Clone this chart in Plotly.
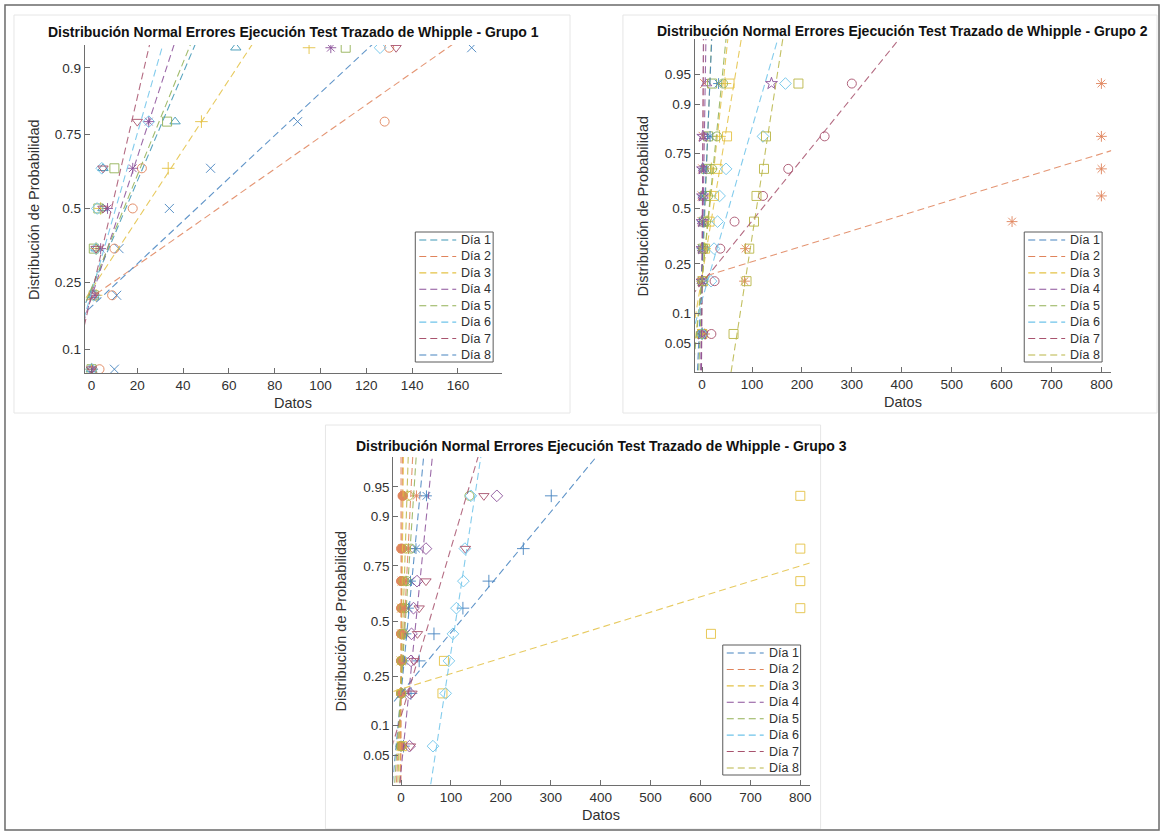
import math
import plotly.graph_objects as go
from statistics import NormalDist

ND = NormalDist()
FIG_W, FIG_H = 1166, 834

# ---------------- text ----------------
DAY_LABELS = ["Día 1", "Día 2", "Día 3", "Día 4", "Día 5", "Día 6", "Día 7", "Día 8"]
TITLE_BASE = "Distribución Normal Errores Ejecución Test Trazado de Whipple - Grupo "
X_LABEL = "Datos"
Y_LABEL = "Distribución de Probabilidad"

# ---------------- ticks ----------------
G1_XTICKS = [0, 20, 40, 60, 80, 100, 120, 140, 160, 180]
G23_XTICKS = [0, 100, 200, 300, 400, 500, 600, 700, 800]
G1_PTICKS = [0.1, 0.25, 0.5, 0.75, 0.9]
G23_PTICKS = [0.05, 0.1, 0.25, 0.5, 0.75, 0.9, 0.95]

# ---------------- data: Grupo 1 (7 observations per day) ----------------
g1_dia1 = [0, 1, 2, 5, 5, 36.5, 63]
g1_dia2 = [3.5, 9, 10, 18, 22, 128, 130]
g1_dia3 = [0, 2, 2, 4, 33.5, 48, 95]
g1_dia4 = [0.5, 1.5, 4, 7, 18, 25, 104.5]
g1_dia5 = [0, 1, 1, 3, 10, 33, 111]
g1_dia6 = [0, 1, 2, 2.5, 4.5, 25, 126]
g1_dia7 = [0, 1, 2, 5, 5, 20, 133]
g1_dia8 = [10, 11, 12, 34, 52, 90, 166]

# ---------------- data: Grupo 2 (8 observations per column) ----------------
g2_dia1 = [0, 0, 0, 1, 2, 3, 16, 33]
g2_dia2 = [5, 85, 87, 621, 800, 800, 800, 800]
g2_dia3 = [0, 1, 5, 10, 16, 18.6, 35, 46]
g2_dia4 = [0, 0, 0, 0, 1, 1, 1.5, 139]
g2_dia5 = [0, 2, 4, 8, 12, 20, 30, 42]
g2_dia6 = [0, 18, 24, 31, 35, 48, 122, 167]
g2_dia7 = [18.6, 25, 36.5, 65, 122, 172.6, 245.5, 300]
g2_dia8 = [63, 89, 94.5, 104, 109, 124, 128, 193]
g2_col9 = [0, 0, 0, 0, 0, 1, 2, 5]
g2_col10 = [0, 2, 6, 15, 24, 31, 50, 55]
g2_col11 = [0, 0, 1, 1, 2, 3, 5, 9]
g2_col12 = [0, 1, 2, 4, 6, 8, 12, 20]

# ---------------- data: Grupo 3 (8 observations per column) ----------------
g3_dia1 = [5, 20, 36.4, 66, 124, 176, 245, 301]
g3_dia2 = [0, 0, 0, 0, 0, 0, 0, 3]
g3_dia3 = [2, 83, 86, 621, 800, 800, 800, 800]
g3_dia4 = [17, 18, 20, 21, 25, 32, 50, 192]
g3_dia5 = [0, 1, 2, 5, 8, 12, 20, 137]
g3_dia6 = [64, 89.5, 96, 104, 111, 125, 128, 140]
g3_dia7 = [19, 22, 26, 33, 36.4, 50, 129, 166]
g3_dia8 = [0, 0, 1, 2, 3, 5, 10, 15]
g3_col9 = [0, 2, 5, 10, 15, 19, 30, 51]
g3_col10 = [0, 1, 2, 4, 6, 10, 15, 31]
g3_col11 = [0, 0, 0, 0, 1, 1, 2, 4]
g3_col12 = [0, 0, 0, 1, 1, 2, 3, 8]

# ---------------- styles ----------------
BLUE = "#4784c0"
TEAL = "#3f97b6"
ORANGE = "#e0845c"
YELLOW = "#e4c246"
PURPLE = "#8c529a"
GREEN = "#93b156"
CYAN = "#6fc4ea"
DARKRED = "#a8536e"
OLIVE = "#b9b647"
AXC = "#6e6e6e"
TXT = "#303030"
FONT = "Liberation Sans, Arial, sans-serif"
DASH = "7px,4px"

# (values, color, marker symbol, legend slot or None)
G1_SERIES = [
    (g1_dia1, TEAL, "triangle-up-open", 0),
    (g1_dia2, ORANGE, "circle-open", 1),
    (g1_dia3, YELLOW, "cross-thin-open", 2),
    (g1_dia4, PURPLE, "asterisk-open", 3),
    (g1_dia5, GREEN, "square-open", 4),
    (g1_dia6, CYAN, "diamond-open", 5),
    (g1_dia7, DARKRED, "triangle-down-open", 6),
    (g1_dia8, BLUE, "x-thin-open", 7),
]
G1_LEG = [TEAL, ORANGE, YELLOW, PURPLE, GREEN, CYAN, DARKRED, BLUE]

G2_SERIES = [
    (g2_col9, ORANGE, "x-thin-open", None),
    (g2_col11, PURPLE, "triangle-up-open", None),
    (g2_col12, GREEN, "square-open", None),
    (g2_col10, YELLOW, "square-open", None),
    (g2_dia1, BLUE, "asterisk-open", 0),
    (g2_dia2, ORANGE, "asterisk-open", 1),
    (g2_dia3, YELLOW, "cross-thin-open", 2),
    (g2_dia4, PURPLE, "star-open", 3),
    (g2_dia5, GREEN, "circle-open", 4),
    (g2_dia6, CYAN, "diamond-open", 5),
    (g2_dia7, DARKRED, "circle-open", 6),
    (g2_dia8, OLIVE, "square-open", 7),
]
G2_LEG = [BLUE, ORANGE, YELLOW, PURPLE, GREEN, CYAN, DARKRED, OLIVE]

G3_SERIES = [
    (g3_col11, ORANGE, "circle", None),
    (g3_col12, YELLOW, "x-thin-open", None),
    (g3_col10, ORANGE, "asterisk-open", None),
    (g3_col9, BLUE, "asterisk-open", None),
    (g3_dia1, BLUE, "cross-thin-open", 0),
    (g3_dia2, ORANGE, "circle", 1),
    (g3_dia3, YELLOW, "square-open", 2),
    (g3_dia4, PURPLE, "diamond-open", 3),
    (g3_dia5, GREEN, "circle-open", 4),
    (g3_dia6, CYAN, "diamond-open", 5),
    (g3_dia7, DARKRED, "triangle-down-open", 6),
    (g3_dia8, OLIVE, "circle-open", 7),
]
G3_LEG = [BLUE, ORANGE, YELLOW, PURPLE, GREEN, CYAN, DARKRED, OLIVE]

# panel geometry in pixels: axes box (x0, x1, y0, y1), x range, z range, legend box
PANELS = [
    dict(n="1", series=G1_SERIES, leg=G1_LEG, box=(85, 503, 45, 373),
         xr=(-2.9, 179.3), zr=(-1.5, 1.49), xt=G1_XTICKS, pt=G1_PTICKS,
         legbox=(416, 494, 232, 362), title_y=32, ylab_x=34, panel=(14, 571, 15, 413)),
    dict(n="2", series=G2_SERIES, leg=G2_LEG, box=(696, 1113, 39, 372),
         xr=(-14.6, 819.4), zr=(-2.0, 2.08), xt=G23_XTICKS, pt=G23_PTICKS,
         legbox=(1026, 1104, 232, 362), title_y=31, ylab_x=644, panel=(624, 1159, 15, 413)),
    dict(n="3", series=G3_SERIES, leg=G3_LEG, box=(394, 811, 457, 785),
         xr=(-15.4, 818.6), zr=(-2.01, 2.01), xt=G23_XTICKS, pt=G23_PTICKS,
         legbox=(724, 802, 645, 775), title_y=446, ylab_x=342, panel=(326, 822, 425, 829)),
]

Z25 = ND.inv_cdf(0.25)
Z75 = ND.inv_cdf(0.75)


def prctile(xs, p):
    n = len(xs)
    pos = p * n - 0.5
    lo = int(math.floor(pos))
    frac = pos - lo
    lo = max(0, min(n - 1, lo))
    hi = min(n - 1, lo + 1)
    return xs[lo] + frac * (xs[hi] - xs[lo])


def px(x):
    return x / FIG_W


def py(y):
    return 1 - y / FIG_H


fig = go.Figure()
shapes = []
annotations = []
layout_axes = {}

for pi, P in enumerate(PANELS):
    sfx = "" if pi == 0 else str(pi + 1)
    xa, ya = "x" + sfx, "y" + sfx
    # faint panel frame
    x0p, x1p, y0p, y1p = P["panel"]
    shapes.append(dict(type="rect", xref="paper", yref="paper", x0=px(x0p), x1=px(x1p),
                       y0=py(y1p), y1=py(y0p), line=dict(color="#e6e6e6", width=1)))
    line_traces = []
    for vals, col, sym, slot in P["series"]:
        xs = sorted(vals)
        n = len(xs)
        zs = [ND.inv_cdf((i + 0.5) / n) for i in range(n)]
        fig.add_trace(go.Scatter(
            x=xs, y=zs, xaxis=xa, yaxis=ya, mode="markers", showlegend=False,
            marker=dict(symbol=sym, size=9, color=col, opacity=0.9,
                        line=dict(color=col, width=1)),
            hoverinfo="skip"))
        q1 = prctile(xs, 0.25)
        q3 = prctile(xs, 0.75)
        zl = [-4.0, 4.0]
        if q3 == q1:
            xl = [q1, q1]
        else:
            xl = [q1 + (z - Z25) * (q3 - q1) / (Z75 - Z25) for z in zl]
        line_traces.append(go.Scatter(
            x=xl, y=zl, xaxis=xa, yaxis=ya, mode="lines", showlegend=False,
            line=dict(color=col, width=1.1, dash=DASH), opacity=0.85,
            hoverinfo="skip"))
    for t in line_traces:
        fig.add_trace(t)

    bx0, bx1, by0, by1 = P["box"]
    layout_axes["xaxis" + sfx] = dict(
        domain=[px(bx0), px(bx1)], range=list(P["xr"]), anchor=ya,
        showline=True, linecolor=AXC, linewidth=1, ticks="inside", ticklen=5,
        tickcolor=AXC, tickvals=P["xt"], ticktext=[str(v) for v in P["xt"]],
        tickfont=dict(size=13.5, color=TXT, family=FONT), showgrid=False,
        zeroline=False, mirror=False)
    layout_axes["yaxis" + sfx] = dict(
        domain=[py(by1), py(by0)], range=list(P["zr"]), anchor=xa,
        showline=True, linecolor=AXC, linewidth=1, ticks="inside", ticklen=5,
        tickcolor=AXC, tickvals=[ND.inv_cdf(p) for p in P["pt"]],
        ticktext=[("%g" % p) for p in P["pt"]],
        tickfont=dict(size=13.5, color=TXT, family=FONT), showgrid=False,
        zeroline=False, mirror=False)

    cx = (bx0 + bx1) / 2
    annotations.append(dict(xref="paper", yref="paper", x=px(cx), y=py(P["title_y"]),
                            text="<b>" + TITLE_BASE + P["n"] + "</b>", showarrow=False,
                            font=dict(size=14, color="#111", family=FONT),
                            xanchor="center", yanchor="middle"))
    annotations.append(dict(xref="paper", yref="paper", x=px(cx), y=py(by1 + 30),
                            text=X_LABEL, showarrow=False,
                            font=dict(size=14.5, color=TXT, family=FONT),
                            xanchor="center", yanchor="middle"))
    annotations.append(dict(xref="paper", yref="paper", x=px(P["ylab_x"]),
                            y=py((by0 + by1) / 2), text=Y_LABEL, showarrow=False,
                            textangle=-90, font=dict(size=14.5, color=TXT, family=FONT),
                            xanchor="center", yanchor="middle"))

    # legend box
    lx0, lx1, ly0, ly1 = P["legbox"]
    shapes.append(dict(type="rect", xref="paper", yref="paper", x0=px(lx0), x1=px(lx1),
                       y0=py(ly1), y1=py(ly0), line=dict(color="#5a5a5a", width=1),
                       fillcolor="white", layer="above"))
    step = (ly1 - ly0 - 15) / 7.0
    for k, lab in enumerate(DAY_LABELS):
        yy = ly0 + 8 + k * step
        shapes.append(dict(type="line", xref="paper", yref="paper",
                           x0=px(lx0 + 4), x1=px(lx0 + 41), y0=py(yy), y1=py(yy),
                           line=dict(color=P["leg"][k], width=1.1, dash=DASH),
                           layer="above"))
        annotations.append(dict(xref="paper", yref="paper", x=px(lx0 + 44), y=py(yy),
                                text=lab, showarrow=False, xanchor="left", yanchor="middle",
                                font=dict(size=12.5, color=TXT, family=FONT)))

# outer frame
shapes.append(dict(type="rect", xref="paper", yref="paper", x0=px(5), x1=px(1161),
                   y0=py(830), y1=py(5), line=dict(color="#6a6a6a", width=1.5)))

fig.update_layout(
    width=FIG_W, height=FIG_H, margin=dict(l=0, r=0, t=0, b=0),
    paper_bgcolor="white", plot_bgcolor="white", showlegend=False,
    shapes=shapes, annotations=annotations, **layout_axes)

fig.write_html("out.html")
